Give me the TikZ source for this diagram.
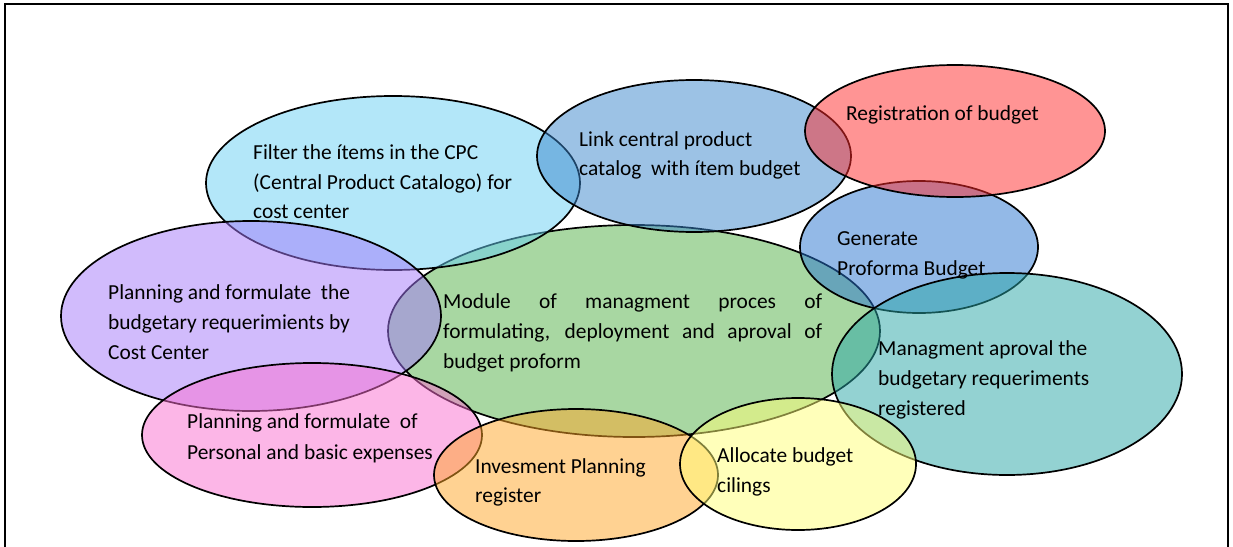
\documentclass[tikz,border=0pt]{standalone}
\usepackage{fontspec}
\setmainfont{Carlito}
\usetikzlibrary{shapes.geometric}
\definecolor{cFil}{RGB}{105,209,245}
\definecolor{cLnk}{RGB}{59,135,205}
\definecolor{cReg}{RGB}{255,43,43}
\definecolor{cGen}{RGB}{41,117,209}
\definecolor{cMod}{RGB}{83,177,71}
\definecolor{cPur}{RGB}{165,121,251}
\definecolor{cPnk}{RGB}{251,111,209}
\definecolor{cTea}{RGB}{41,167,167}
\definecolor{cOra}{RGB}{255,167,39}
\definecolor{cYel}{RGB}{255,255,119}
\begin{document}
\begin{tikzpicture}[x=1pt,y=-1pt,
  bub/.style={ellipse, draw=black, line width=1.7pt, fill opacity=0.5, inner sep=0pt},
  lbl/.style={anchor=base west, inner sep=0pt, font=\fontsize{21.4}{30}\selectfont}]
\useasboundingbox (0,0) rectangle (1233,546);
\fill[white] (0,0) rectangle (1233,546);
\draw[line width=2pt] (5,550) -- (5,4) -- (1228,4) -- (1228,550);
% ellipses
\node[bub, fill=cMod, minimum width=492pt, minimum height=212pt] (mod) at (634,331) {};
\node[bub, fill=cFil, minimum width=374pt, minimum height=174pt] (fil) at (393,183) {};
\node[bub, fill=cGen, minimum width=238pt, minimum height=132pt] (gen) at (919,247) {};
\node[bub, fill=cLnk, minimum width=314pt, minimum height=152pt] (lnk) at (694,156) {};
\node[bub, fill=cReg, minimum width=300pt, minimum height=132pt] (reg) at (955,131) {};
\node[bub, fill=cPur, minimum width=380pt, minimum height=190pt] (pur) at (251,316) {};
\node[bub, fill=cPnk, minimum width=340pt, minimum height=144pt] (pnk) at (312,435) {};
\node[bub, fill=cTea, minimum width=350pt, minimum height=202pt] (tea) at (1007,374) {};
\node[bub, fill=cOra, minimum width=284pt, minimum height=132pt] (ora) at (576,475) {};
\node[bub, fill=cYel, minimum width=236pt, minimum height=132pt] (yel) at (798,464) {};
% texts
\node[lbl] (f1) at (253,159) {Filter the ítems in the CPC};
\node[lbl] (f2) at (253,189) {(Central Product Catalogo) for};
\node[lbl] (f3) at (253,218) {cost center};
\node[lbl] (l1) at (579,146) {Link central product};
\node[lbl] (l2) at (579,175) {catalog\ \ with ítem budget};
\node[lbl] (r1) at (846,120) {Registration of budget};
\node[lbl] (g1) at (837,245) {Generate};
\node[lbl] (g2) at (837,275) {Proforma Budget};
\node[lbl] (m1) at (443,308) {\makebox[379pt][s]{Module of managment proces of}};
\node[lbl] (m2) at (443,338) {\makebox[379pt][s]{formulating, deployment and aproval of}};
\node[lbl] (m3) at (443,368) {budget proform};
\node[lbl] (p1) at (108,299) {Planning and formulate\ \ the};
\node[lbl] (p2) at (108,329) {budgetary requerimients by};
\node[lbl] (p3) at (108,359) {Cost Center};
\node[lbl] (k1) at (187,428) {Planning and formulate\ \ of};
\node[lbl] (k2) at (187,459) {Personal and basic expenses};
\node[lbl] (t1) at (878,355) {Managment aproval the};
\node[lbl] (t2) at (878,385) {budgetary requeriments};
\node[lbl] (t3) at (878,415) {registered};
\node[lbl] (o1) at (475,473) {Invesment Planning};
\node[lbl] (o2) at (475,502) {register};
\node[lbl] (y1) at (717,462) {Allocate budget};
\node[lbl] (y2) at (717,492) {cilings};
\end{tikzpicture}
\end{document}
